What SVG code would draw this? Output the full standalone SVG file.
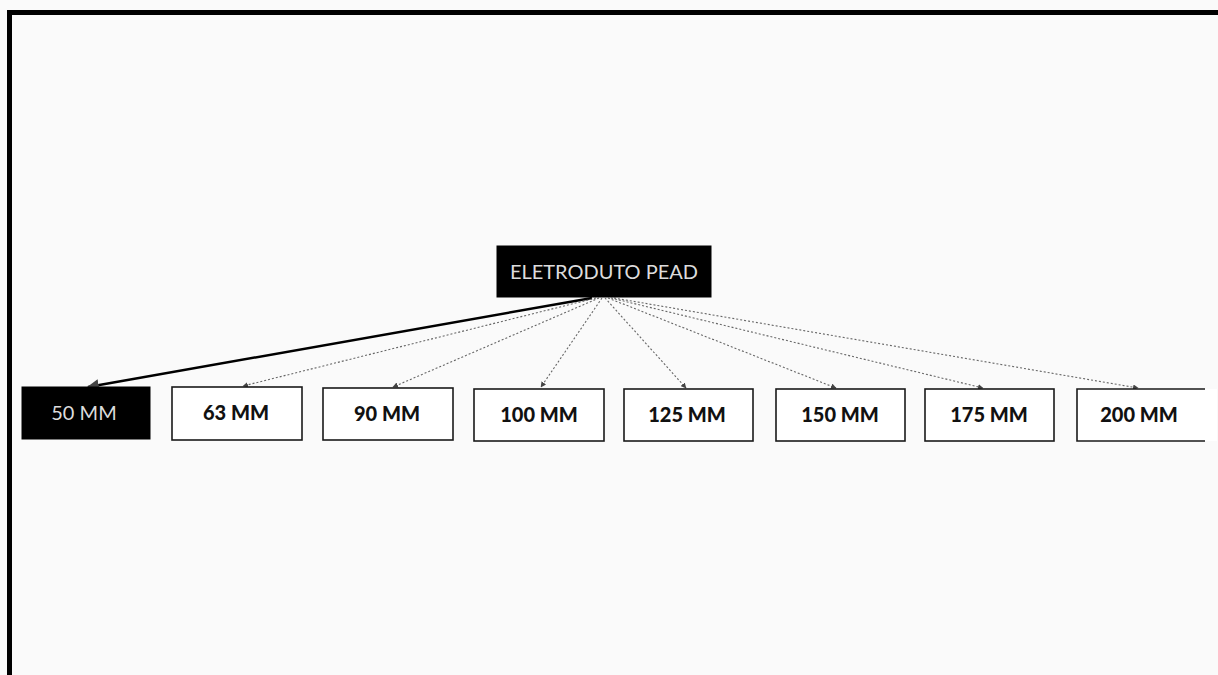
<svg xmlns="http://www.w3.org/2000/svg" width="1218" height="675" viewBox="0 0 1218 675">
<style>
.box{fill:#ffffff;stroke:#1a1a1a;stroke-width:1.6}
.dark{fill:#000000;stroke:#000000;stroke-width:1}
.lbl{font-family:Lato,"Open Sans",sans-serif;font-weight:900;font-size:20px;fill:#111111;text-anchor:middle}
.lblw{font-family:Lato,"Open Sans",sans-serif;font-size:20px;fill:#dcdcdc;text-anchor:middle}
.dot{stroke:#666666;stroke-width:1.1;stroke-dasharray:2 2;fill:none}
</style>
<defs>
<marker id="ah" viewBox="0 0 10 10" refX="9" refY="5" markerWidth="5" markerHeight="5" orient="auto">
<path d="M0,0 L10,5 L0,10 z" fill="#444444"/>
</marker>
</defs>
<rect x="0" y="0" width="1218" height="675" fill="#fafafa"/>
<path d="M9.5,675 V12.5 H1218" fill="none" stroke="#000000" stroke-width="5"/>
<g id="connectors">
<line x1="592" y1="298" x2="88" y2="387" stroke="#000000" stroke-width="2.4" marker-end="url(#ah)"/>
<line class="dot" x1="596" y1="298" x2="243" y2="386" marker-end="url(#ah)"/>
<line class="dot" x1="599" y1="298" x2="393" y2="387" marker-end="url(#ah)"/>
<line class="dot" x1="602" y1="298" x2="541" y2="387" marker-end="url(#ah)"/>
<line class="dot" x1="605" y1="298" x2="686" y2="388" marker-end="url(#ah)"/>
<line class="dot" x1="608" y1="298" x2="836" y2="388" marker-end="url(#ah)"/>
<line class="dot" x1="611" y1="298" x2="983" y2="388" marker-end="url(#ah)"/>
<line class="dot" x1="614" y1="298" x2="1138" y2="388" marker-end="url(#ah)"/>
</g>
<g id="root">
<rect class="dark" x="497" y="246" width="214" height="51"/>
<text class="lblw" x="604" y="279">ELETRODUTO PEAD</text>
</g>
<g id="n50">
<rect class="dark" x="22" y="387" width="128" height="52"/>
<text class="lblw" x="84" y="420">50 MM</text>
</g>
<g id="n63">
<rect class="box" x="172" y="387" width="130" height="53"/>
<text class="lbl" x="236" y="420">63 MM</text>
</g>
<g id="n90">
<rect class="box" x="323" y="388" width="130" height="52"/>
<text class="lbl" x="387" y="421">90 MM</text>
</g>
<g id="n100">
<rect class="box" x="474" y="389" width="130" height="52"/>
<text class="lbl" x="539" y="422">100 MM</text>
</g>
<g id="n125">
<rect class="box" x="624" y="389" width="129" height="52"/>
<text class="lbl" x="687" y="422">125 MM</text>
</g>
<g id="n150">
<rect class="box" x="776" y="389" width="129" height="52"/>
<text class="lbl" x="840" y="422">150 MM</text>
</g>
<g id="n175">
<rect class="box" x="925" y="389" width="129" height="52"/>
<text class="lbl" x="989" y="422">175 MM</text>
</g>
<g id="n200">
<rect x="1077" y="389" width="140" height="52" fill="#ffffff"/>
<path d="M1205,389 H1077 V441 H1205" fill="none" stroke="#1a1a1a" stroke-width="1.6"/>
<text class="lbl" x="1139" y="422">200 MM</text>
</g>
</svg>
